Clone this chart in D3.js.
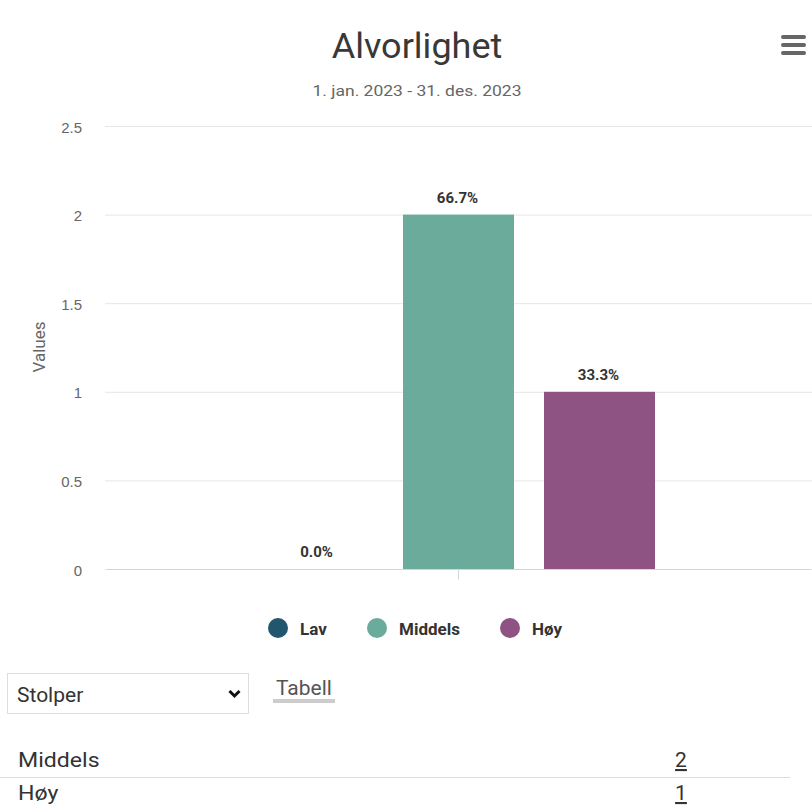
<!DOCTYPE html>
<html>
<head>
<meta charset="utf-8">
<script src="https://cdn.jsdelivr.net/npm/d3@7"></script>
<style>
  html, body { margin: 0; padding: 0; background: #fff; }
  svg { display: block; font-family: Roboto, "Noto Sans", sans-serif; }
</style>
</head>
<body>
<svg id="chart" width="812" height="805"></svg>
<script>
// Severity counts for the period
const categories = ["Alvorlighet"];
const seriesNames = ["Lav", "Middels", "Høy"];
const seriesValues = [0, 2, 1];
const seriesColors = ["#22566e", "#6aab9c", "#8e5283"];
const yTicks = [0, 0.5, 1, 1.5, 2, 2.5];
const tableRows = [["Middels", 2], ["Høy", 1]];

const total = d3.sum(seriesValues);
const svg = d3.select("#chart");

const plot = { left: 107, right: 810, top: 126, bottom: 569 };

const y = d3.scaleLinear().domain([0, 2.5]).range([plot.bottom, plot.top]);
const x0 = d3.scaleBand().domain(categories).range([plot.left, plot.right]).paddingInner(0).paddingOuter(0);
const x1 = d3.scaleBand().domain(seriesNames)
  .range([262 - plot.left, 655 - plot.left]).paddingInner(30 / 141).paddingOuter(0);

// Text drawn with a slight horizontal stretch
function wideText(x, yPos, sx) {
  return svg.append("g").attr("transform", `translate(${x},${yPos}) scale(${sx},1)`).append("text");
}

// Title and subtitle
wideText(417, 58, 1.03).attr("text-anchor", "middle")
  .attr("font-size", 35).attr("fill", "#383838").text("Alvorlighet");
wideText(417, 96, 1.13).attr("text-anchor", "middle")
  .attr("font-size", 15.5).attr("fill", "#666").text("1. jan. 2023 - 31. des. 2023");

// Menu button
[37, 45, 53].forEach(cy => {
  svg.append("rect").attr("x", 781).attr("y", cy - 2).attr("width", 25).attr("height", 4)
    .attr("rx", 2).attr("fill", "#666");
});

// Grid and y axis
const yAxis = d3.axisLeft(y).tickValues(yTicks).tickSize(-(plot.right - plot.left + 4))
  .tickFormat(d => d3.format("")(d));
const gy = svg.append("g").attr("transform", `translate(${plot.left},0)`).call(yAxis);
gy.select(".domain").remove();
gy.selectAll(".tick line").attr("stroke", "#e6e6e6").attr("x1", -2);
gy.selectAll(".tick text").attr("x", -25).attr("dy", "0.4em").attr("fill", "#666")
  .attr("font-size", 15).attr("text-anchor", "end");

svg.append("text").attr("transform", "translate(45,347) rotate(-90)")
  .attr("text-anchor", "middle").attr("font-size", 17).attr("fill", "#666").text("Values");

// Bars
const g = svg.append("g");
const bars = seriesNames.map((n, i) => ({ name: n, value: seriesValues[i], color: seriesColors[i] }));
g.selectAll("rect.bar").data(bars).enter().append("rect").attr("class", "bar")
  .attr("x", d => x0(categories[0]) + x1(d.name))
  .attr("y", d => y(d.value))
  .attr("width", x1.bandwidth())
  .attr("height", d => y(0) - y(d.value))
  .attr("fill", d => d.color);

g.selectAll("text.lbl").data(bars).enter().append("text").attr("class", "lbl")
  .attr("x", d => x0(categories[0]) + x1(d.name) + x1.bandwidth() / 2 - 1)
  .attr("y", d => y(d.value) - 12)
  .attr("text-anchor", "middle").attr("font-size", 15).attr("font-weight", "bold")
  .attr("fill", "#333")
  .text(d => d3.format(".1f")(d.value / total * 100) + "%");

// X axis
const xAxis = d3.axisBottom(x0).tickSize(10).tickFormat("");
const gx = svg.append("g").attr("transform", `translate(0,${plot.bottom + 0.5})`).call(xAxis);
gx.select(".domain").attr("stroke", "#ccd6eb").attr("d", `M${plot.left},0H${plot.right}`);
gx.selectAll(".tick line").attr("stroke", "#ccd6eb");

// Legend
const legendX = [278, 377, 510];
const lg = svg.append("g");
bars.forEach((d, i) => {
  lg.append("circle").attr("cx", legendX[i]).attr("cy", 628).attr("r", 10).attr("fill", d.color);
  lg.append("text").attr("x", legendX[i] + 22).attr("y", 635).attr("font-size", 17)
    .attr("font-weight", "bold").attr("fill", "#333").text(d.name);
});

// Chart type selector
svg.append("rect").attr("x", 7.5).attr("y", 673.5).attr("width", 241).attr("height", 40)
  .attr("fill", "#fff").attr("stroke", "#ddd");
svg.append("text").attr("x", 17).attr("y", 702).attr("font-size", 21).attr("fill", "#333").text("Stolper");
svg.append("path").attr("d", "M229.5,691 L234.5,696 L239.5,691").attr("fill", "none")
  .attr("stroke", "#111").attr("stroke-width", 3);

svg.append("text").attr("x", 276).attr("y", 695).attr("font-size", 21).attr("fill", "#555").text("Tabell");
svg.append("rect").attr("x", 273).attr("y", 699).attr("width", 62).attr("height", 4).attr("fill", "#ccc");

// Table
const rowY = [767, 800];
tableRows.forEach((r, i) => {
  wideText(18, rowY[i], 1.1).attr("font-size", 21).attr("fill", "#333").text(r[0]);
  svg.append("text").attr("x", 681).attr("y", rowY[i]).attr("font-size", 21).attr("fill", "#333")
    .attr("text-anchor", "middle").attr("text-decoration", "underline").text(r[1]);
});
svg.append("line").attr("x1", 0).attr("x2", 790).attr("y1", 777.5).attr("y2", 777.5)
  .attr("stroke", "#ddd");
</script>
</body>
</html>
